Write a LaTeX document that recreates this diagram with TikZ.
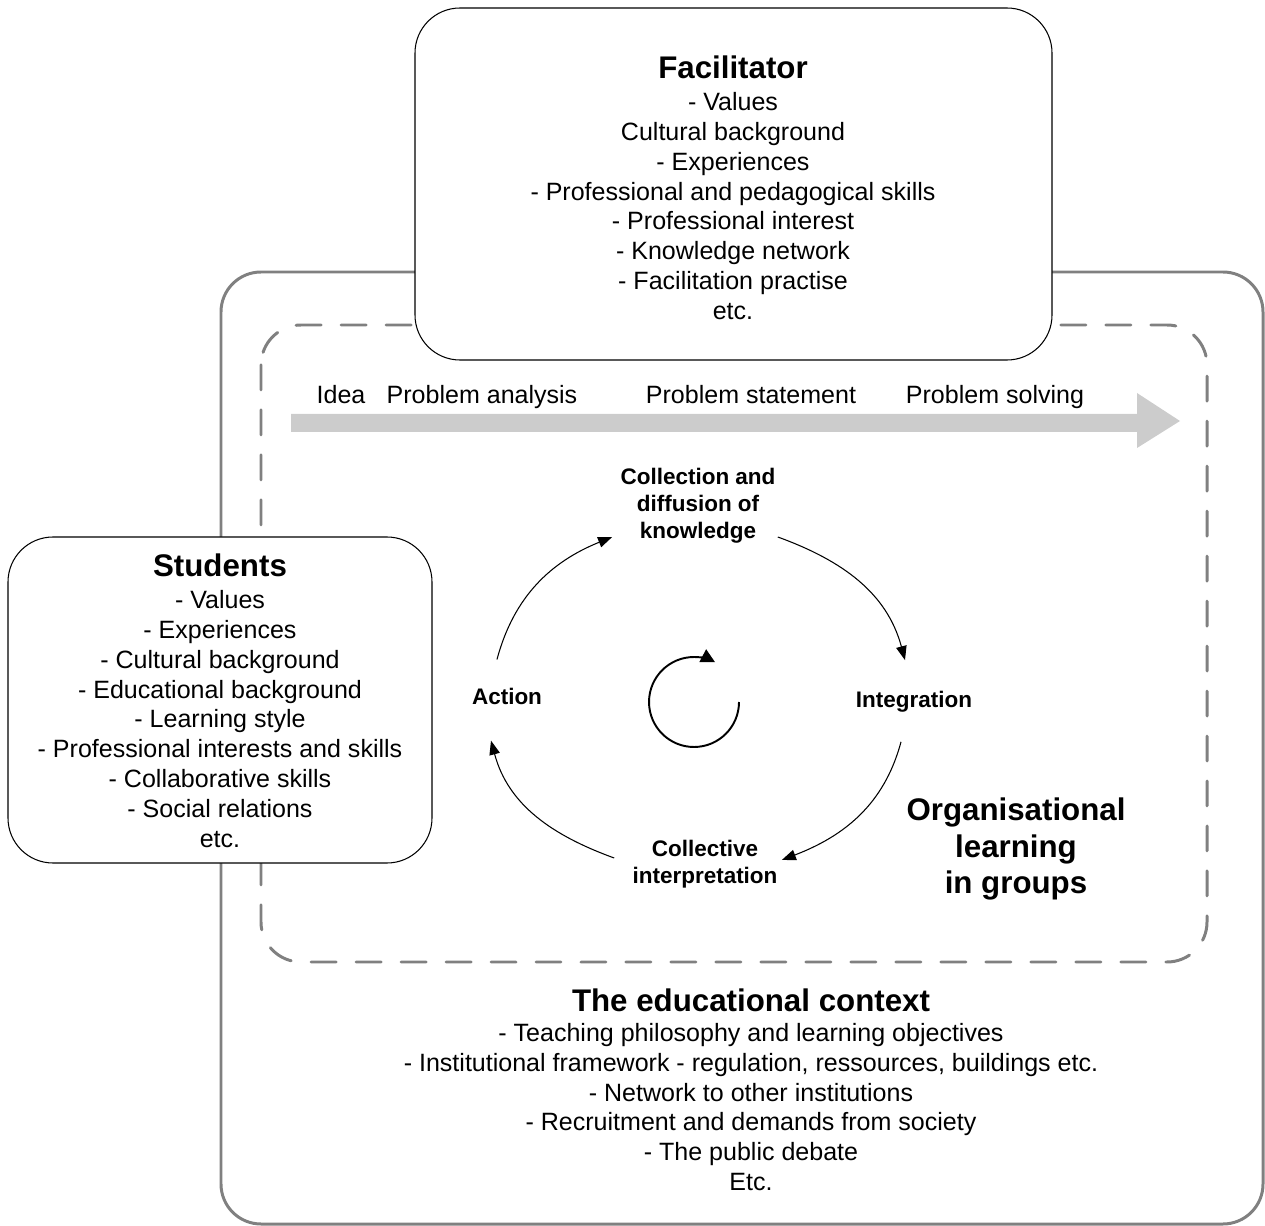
\documentclass[tikz,border=0pt]{standalone}
\usepackage{fontspec}
\setmainfont{Liberation Sans}
\usetikzlibrary{arrows.meta,calc}
\definecolor{framegray}{HTML}{808080}
\definecolor{arrowgray}{HTML}{CCCCCC}
\tikzset{
  frame/.style={draw=framegray, line width=1.7pt, rounded corners=0.8cm},
  dashframe/.style={frame, dash pattern=on 0.5cm off 0.4cm, line cap=round},
  box/.style={draw=black, line width=0.6pt, fill=white, rounded corners=0.9cm},
  ttl/.style={font=\fontsize{17.8}{21}\selectfont\bfseries, align=center, inner sep=0pt},
  lst/.style={font=\fontsize{14.25}{17}\selectfont, align=center, inner sep=0pt},
  stage/.style={font=\fontsize{14.25}{17}\selectfont, inner sep=0pt, anchor=base},
  cyclbl/.style={font=\fontsize{12.8}{15.3}\selectfont\bfseries, align=center, inner sep=0pt},
  cycarr/.style={line width=0.6pt, -{Triangle[length=8pt,width=6pt]}}
}
\begin{document}
\begin{tikzpicture}[x=0.02cm, y=0.02cm]
    \useasboundingbox (0,0) rectangle (1265,-1226);
    % Frames: context and group
    \draw[frame] (221,-272) rectangle (1263,-1224);
    \draw[dashframe] (261,-325) rectangle (1207,-962);
    % Process arrow
    \fill[arrowgray] (291,-414) -- (1137,-414) -- (1137,-393) -- (1180,-421) -- (1137,-448) -- (1137,-432) -- (291,-432) -- cycle;
    \node[stage] (idea) at (341,-404) {Idea};
    \node[stage] (analysis) at (482,-404) {Problem analysis};
    \node[stage] (statement) at (751,-404) {Problem statement};
    \node[stage] (solving) at (995,-404) {Problem solving};
    % Facilitator
    \draw[box] (415,-8) rectangle (1052,-360);
    \node[ttl] (factitle) at (733,-67) {Facilitator};
    \node[lst] (faclist) at (733,-206) {- Values\\Cultural background\\- Experiences\\- Professional and pedagogical skills\\- Professional interest\\- Knowledge network\\- Facilitation practise\\etc.};
    % Students
    \draw[box] (8,-537) rectangle (432,-863);
    \node[ttl] (stutitle) at (220,-565) {Students};
    \node[lst] (stulist) at (220,-719) {- Values\\- Experiences\\- Cultural background\\- Educational background\\- Learning style\\- Professional interests and skills\\- Collaborative skills\\- Social relations\\etc.};
    % Learning cycle
    \node[cyclbl] (coll) at (698,-506) {Collection and\\diffusion of\\knowledge};
    \node[cyclbl] (integ) at (914,-702) {Integration};
    \node[cyclbl] (colint) at (705,-864) {Collective\\interpretation};
    \node[cyclbl] (act) at (507,-696) {Action};
    \draw[cycarr] ($(act.north)+(-10,28)$) to[out=75,in=202] ($(coll.west)+(-8,-31)$);
    \draw[cycarr] ($(coll.east)+(2,-31)$) to[out=-20,in=105] ($(integ.north)+(-9,31)$);
    \draw[cycarr] ($(integ.south)+(-13,-29)$) to[out=-105,in=21] ($(colint.east)+(4,4)$);
    \draw[cycarr] ($(colint.west)+(-18,6)$) to[out=160,in=-75] ($(act.south)+(-16,-36)$);
    \coordinate (hub) at (694,-702);
    \draw[line width=1.1pt, -{Triangle[length=8pt,width=8pt]}] ($(hub)+(45,0)$) arc[start angle=0, end angle=-298, radius=0.9cm];
    \node[ttl] (orggroup) at (1016,-849) {Organisational\\learning\\in groups};
    % Educational context
    \node[ttl] (ctxtitle) at (751,-1000) {The educational context};
    \node[lst] (ctxlist) at (751,-1107) {- Teaching philosophy and learning objectives\\- Institutional framework - regulation, ressources, buildings etc.\\- Network to other institutions\\- Recruitment and demands from society\\- The public debate\\Etc.};
\end{tikzpicture}
\end{document}
